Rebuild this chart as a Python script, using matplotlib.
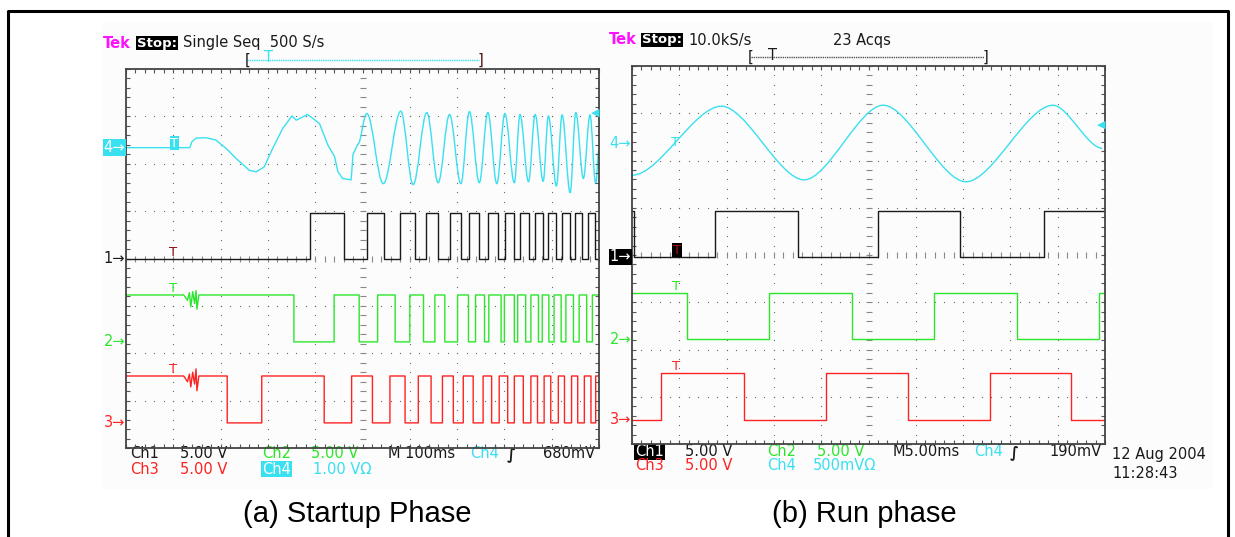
import numpy as np
import matplotlib
matplotlib.use("Agg")
import matplotlib.pyplot as plt
from matplotlib.ticker import MultipleLocator
from matplotlib.path import Path
from matplotlib.patches import PathPatch

# --- colours of the scope channels
CYAN = "#38e0f0"
GREEN = "#2be62b"
RED = "#ff2222"
BLACK = "#1a1a1a"
MAGENTA = "#ff10ff"

# ---------------- (a) startup phase, values in divisions ----------------
# ch4 (motor current) slow start: (x, y) points
a_ch4_x = [0.0, 1.35, 1.39, 1.48, 1.69, 1.90, 2.12, 2.33, 2.61, 2.75, 2.92, 3.10,
           3.31, 3.51, 3.60, 3.84, 4.09, 4.27, 4.41, 4.48, 4.58, 4.76, 4.80, 4.90]
a_ch4_y = [6.34, 6.34, 6.46, 6.54, 6.55, 6.50, 6.32, 6.11, 5.86, 5.83, 5.93, 6.32,
           6.74, 7.01, 6.92, 7.04, 6.85, 6.39, 6.15, 5.83, 5.69, 5.66, 6.20, 6.41]
# then oscillation: peaks and troughs
a_ch4_peak_x = [5.09, 5.81, 6.36, 6.84, 7.26, 7.65, 8.01, 8.33, 8.65, 8.93, 9.22, 9.51, 9.81]
a_ch4_peak_y = [7.06, 7.11, 7.08, 7.04, 7.10, 7.08, 7.06, 7.04, 7.04, 7.01, 7.03, 7.08, 7.03]
a_ch4_trough_x = [5.44, 6.07, 6.60, 7.08, 7.47, 7.84, 8.21, 8.51, 8.82, 9.10, 9.39, 9.67, 9.93]
a_ch4_trough_y = [5.58, 5.56, 5.60, 5.58, 5.60, 5.58, 5.60, 5.62, 5.63, 5.53, 5.39, 5.69, 5.58]
a_ch4_end = (10.0, 6.30)

# ch1 hall signal: edges (alternating rise / fall), starts low
a_ch1_lo, a_ch1_hi = 4.0, 4.96
a_ch1_edges = [3.90, 4.61, 5.09, 5.46, 5.79, 6.11, 6.34, 6.60, 6.84, 7.08, 7.26, 7.47,
               7.65, 7.86, 8.01, 8.21, 8.33, 8.53, 8.65, 8.82, 8.93, 9.10, 9.21, 9.39,
               9.49, 9.65, 9.77, 9.92]

# ch2: starts high
a_ch2_lo, a_ch2_hi = 2.24, 3.23
a_ch2_edges = [3.55, 4.40, 4.93, 5.32, 5.69, 6.00, 6.29, 6.53, 6.74, 7.01, 7.24, 7.39,
               7.58, 7.67, 7.93, 8.00, 8.21, 8.28, 8.45, 8.56, 8.72, 8.80, 8.94, 9.05,
               9.20, 9.30, 9.46, 9.58, 9.74, 9.86]
a_ch2_glitch_x = [1.22, 1.30, 1.34, 1.37, 1.41, 1.45, 1.48, 1.50, 1.54]
a_ch2_glitch_y = [3.23, 3.12, 3.28, 2.98, 3.30, 3.05, 3.32, 2.93, 3.23]

# ch3: starts high
a_ch3_lo, a_ch3_hi = 0.53, 1.52
a_ch3_edges = [2.14, 2.87, 4.19, 4.77, 5.21, 5.58, 5.90, 6.18, 6.45, 6.69, 6.92, 7.13,
               7.34, 7.55, 7.73, 7.89, 8.07, 8.21, 8.40, 8.56, 8.70, 8.84, 8.98, 9.14,
               9.27, 9.42, 9.55, 9.69, 9.83, 9.93]
a_ch3_glitch_x = [1.22, 1.30, 1.34, 1.37, 1.41, 1.45, 1.48, 1.50, 1.54]
a_ch3_glitch_y = [1.52, 1.40, 1.56, 1.29, 1.60, 1.35, 1.67, 1.21, 1.52]

# ---------------- (b) run phase ----------------
# ch4: start, peaks / troughs, end
b_ch4_x = [0.01, 1.89, 3.64, 5.31, 7.06, 8.90, 9.94]
b_ch4_y = [5.69, 7.15, 5.59, 7.17, 5.55, 7.17, 6.26]

b_ch1_lo, b_ch1_hi = 3.96, 4.94
b_ch1_edges = [0.05, 1.75, 3.52, 5.20, 6.94, 8.70]          # starts high
b_ch2_lo, b_ch2_hi = 2.22, 3.20
b_ch2_edges = [1.16, 2.90, 4.65, 6.39, 8.15, 9.87]          # starts high
b_ch3_lo, b_ch3_hi = 0.51, 1.50
b_ch3_edges = [0.61, 2.36, 4.10, 5.83, 7.56, 9.29]          # starts low


def square(edges, lo, hi, start_high, gx=None, gy=None):
    lvl = hi if start_high else lo
    pts = [(0.0, lvl)]
    for t in edges:
        new = lo if lvl == hi else hi
        pts += [(t, lvl), (t, new)]
        lvl = new
    pts.append((10.0, lvl))
    if gx is not None:
        pts += list(zip(gx, gy))
        pts = sorted(pts, key=lambda p: p[0])
    xs, ys = zip(*pts)
    return xs, ys


def smooth_path(xs, ys, k=0.36):
    # cubic bezier between extremes, flat tangent at each peak / trough
    verts = [(xs[0], ys[0])]
    codes = [Path.MOVETO]
    for i in range(1, len(xs)):
        d = xs[i] - xs[i - 1]
        verts += [(xs[i - 1] + k * d, ys[i - 1]), (xs[i] - k * d, ys[i]), (xs[i], ys[i])]
        codes += [Path.CURVE4] * 3
    return Path(verts, codes)


def scope_axes(rect):
    ax = fig.add_axes(rect)
    ax.set_xlim(0, 10)
    ax.set_ylim(0, 8)
    ax.set_facecolor("none")
    for s in ax.spines.values():
        s.set_color("#444444")
        s.set_linewidth(1.3)
    ax.xaxis.set_major_locator(MultipleLocator(1))
    ax.yaxis.set_major_locator(MultipleLocator(1))
    ax.xaxis.set_minor_locator(MultipleLocator(0.2))
    ax.yaxis.set_minor_locator(MultipleLocator(0.2))
    ax.tick_params(which="both", direction="in", top=True, right=True,
                   length=3, width=0.8, color="#555555",
                   labelbottom=False, labelleft=False)
    # dotted graticule
    xs = np.arange(0, 10.01, 0.2)
    ys = np.arange(0, 8.01, 0.2)
    for i in range(1, 10):
        if i != 5:
            ax.scatter(np.full(ys.size, i), ys, s=0.8, color="#666666", lw=0, zorder=1)
    for j in range(1, 8):
        if j != 4:
            ax.scatter(xs, np.full(xs.size, j), s=0.8, color="#666666", lw=0, zorder=1)
    # centre cross with small ticks
    ax.plot(np.full(ys.size, 5), ys, ls="none", marker="_", ms=4, mew=0.8,
            color="#888888", zorder=1)
    ax.plot(xs, np.full(xs.size, 4), ls="none", marker="|", ms=4, mew=0.8,
            color="#888888", zorder=1)
    return ax


fig = plt.figure(figsize=(12.35, 5.37), dpi=100)

# background layer in pixel coordinates
bg = fig.add_axes([0, 0, 1, 1])
bg.set_xlim(0, 1235)
bg.set_ylim(537, 0)
bg.axis("off")
bg.add_patch(plt.Rectangle((102, 22), 1111, 467, color="#fcfcfc", lw=0))
bg.plot([8, 8, 1228, 1228], [545, 11, 11, 545], color="black", lw=2.2)

W, H = 1235.0, 537.0
axa = scope_axes([126 / W, (H - 448) / H, 473 / W, 379 / H])
axb = scope_axes([632 / W, (H - 444) / H, 473 / W, 378 / H])

lw = 1.0
# ---- panel (a) traces
axa.plot(a_ch4_x, a_ch4_y, color=CYAN, lw=lw)
ox = [a_ch4_x[-1]] + [v for pair in zip(a_ch4_peak_x, a_ch4_trough_x) for v in pair] + [a_ch4_end[0]]
oy = [a_ch4_y[-1]] + [v for pair in zip(a_ch4_peak_y, a_ch4_trough_y) for v in pair] + [a_ch4_end[1]]
axa.add_patch(PathPatch(smooth_path(ox, oy), fc="none", ec=CYAN, lw=lw))
axa.plot(*square(a_ch1_edges, a_ch1_lo, a_ch1_hi, False), color=BLACK, lw=lw)
axa.plot(*square(a_ch2_edges, a_ch2_lo, a_ch2_hi, True, a_ch2_glitch_x, a_ch2_glitch_y),
         color=GREEN, lw=lw)
axa.plot(*square(a_ch3_edges, a_ch3_lo, a_ch3_hi, True, a_ch3_glitch_x, a_ch3_glitch_y),
         color=RED, lw=lw)

# ---- panel (b) traces
axb.add_patch(PathPatch(smooth_path(b_ch4_x, b_ch4_y, 0.3), fc="none", ec=CYAN, lw=lw))
axb.plot(*square(b_ch1_edges, b_ch1_lo, b_ch1_hi, True), color=BLACK, lw=lw)
axb.plot(*square(b_ch2_edges, b_ch2_lo, b_ch2_hi, True), color=GREEN, lw=lw)
axb.plot(*square(b_ch3_edges, b_ch3_lo, b_ch3_hi, False), color=RED, lw=lw)

fs = 10.5
mk = dict(ha="right", va="center", fontsize=fs)
# channel ground markers
axa.text(-0.02, 6.34, "4→", color="white", bbox=dict(fc=CYAN, ec="none", pad=0.6), **mk)
axa.text(-0.02, a_ch1_lo, "1→", color=BLACK, **mk)
axa.text(-0.02, a_ch2_lo, "2→", color=GREEN, **mk)
axa.text(-0.02, a_ch3_lo, "3→", color=RED, **mk)
axb.text(-0.02, 6.35, "4→", color=CYAN, **mk)
axb.text(-0.02, b_ch1_lo, "1→", color="white", bbox=dict(fc="black", ec="none", pad=0.6), **mk)
axb.text(-0.02, b_ch2_lo, "2→", color=GREEN, **mk)
axb.text(-0.02, b_ch3_lo, "3→", color=RED, **mk)

# trigger position markers
tk = dict(ha="center", va="bottom", fontsize=9.5)
axa.text(1.02, 6.30, "T", color="white", bbox=dict(fc=CYAN, ec="none", pad=0.4), **tk)
axa.text(1.0, a_ch1_lo, "T", color="#881111", **tk)
axa.text(1.0, a_ch2_hi, "T", color=GREEN, **tk)
axa.text(1.0, a_ch3_hi, "T", color=RED, **tk)
axb.text(0.92, 6.25, "T", color=CYAN, **tk)
axb.text(0.95, b_ch1_lo, "T", color="#aa1111", bbox=dict(fc="black", ec="none", pad=0.4), **tk)
axb.text(0.93, b_ch2_hi, "T", color=GREEN, **tk)
axb.text(0.93, b_ch3_hi, "T", color=RED, **tk)
# trigger level arrows
axa.text(10.0, 7.07, "◀", color=CYAN, ha="right", va="center", fontsize=8)
axb.text(10.0, 6.75, "◀", color=CYAN, ha="right", va="center", fontsize=8)

# ---- header texts (pixel coords)
t = dict(fontsize=fs, va="center", ha="left")
st = dict(fontsize=9.5, va="center", ha="left", fontweight="bold", color="white",
          bbox=dict(fc="black", ec="none", pad=0.5))
bg.text(103, 43, "Tek", color=MAGENTA, fontweight="bold", **t)
bg.text(137, 43, "Stop:", **st)
bg.text(183, 43, "Single Seq  500 S/s", color=BLACK, **t)
bg.text(609, 40, "Tek", color=MAGENTA, fontweight="bold", **t)
bg.text(642, 40, "Stop:", **st)
bg.text(688, 40, "10.0kS/s", color=BLACK, **t)
bg.text(833, 40, "23 Acqs", color=BLACK, **t)

# record window brackets
bg.plot([247, 479], [60, 60], color=CYAN, lw=1, ls=(0, (1, 0.6)))
bg.text(245, 60, "[", color=BLACK, **t)
bg.text(268, 58, "T", color=CYAN, ha="center", va="center", fontsize=fs)
bg.text(478, 60, "]", color="#551111", **t)
bg.plot([751, 984], [57, 57], color="#555555", lw=1, ls=(0, (1, 0.6)))
bg.text(748, 57, "[", color=BLACK, **t)
bg.text(772, 55, "T", color=BLACK, ha="center", va="center", fontsize=fs)
bg.text(983, 57, "]", color=BLACK, **t)

# ---- readouts
r1, r2 = 454, 469
bg.text(130, r1, "Ch1", color=BLACK, **t)
bg.text(180, r1, "5.00 V", color=BLACK, **t)
bg.text(262, r1, "Ch2", color=GREEN, **t)
bg.text(311, r1, "5.00 V", color=GREEN, **t)
bg.text(388, r1, "M 100ms", color=BLACK, **t)
bg.text(470, r1, "Ch4", color=CYAN, **t)
bg.text(507, r1, "∫", color=BLACK, fontweight="bold", **t)
bg.text(543, r1, "680mV", color=BLACK, **t)
bg.text(130, r2, "Ch3", color=RED, **t)
bg.text(180, r2, "5.00 V", color=RED, **t)
bg.text(262, r2, "Ch4", color="white", bbox=dict(fc=CYAN, ec="none", pad=0.5), **t)
bg.text(313, r2, "1.00 VΩ", color=CYAN, **t)

q1, q2 = 452, 466
bg.text(635, q1, "Ch1", color="white", bbox=dict(fc="black", ec="none", pad=0.5), **t)
bg.text(685, q1, "5.00 V", color=BLACK, **t)
bg.text(767, q1, "Ch2", color=GREEN, **t)
bg.text(817, q1, "5.00 V", color=GREEN, **t)
bg.text(893, q1, "M5.00ms", color=BLACK, **t)
bg.text(974, q1, "Ch4", color=CYAN, **t)
bg.text(1010, q1, "∫", color=BLACK, fontweight="bold", **t)
bg.text(1049, q1, "190mV", color=BLACK, **t)
bg.text(635, q2, "Ch3", color=RED, **t)
bg.text(685, q2, "5.00 V", color=RED, **t)
bg.text(767, q2, "Ch4", color=CYAN, **t)
bg.text(813, q2, "500mVΩ", color=CYAN, **t)
bg.text(1112, 454, "12 Aug 2004", color=BLACK, **t)
bg.text(1112, 473, "11:28:43", color=BLACK, **t)

# ---- captions
cap = dict(fontsize=21, family="Liberation Sans", ha="center", va="center", color="black")
bg.text(357, 514, "(a) Startup Phase", **cap)
bg.text(864, 514, "(b) Run phase", **cap)

fig.savefig("out.png", dpi=100)
